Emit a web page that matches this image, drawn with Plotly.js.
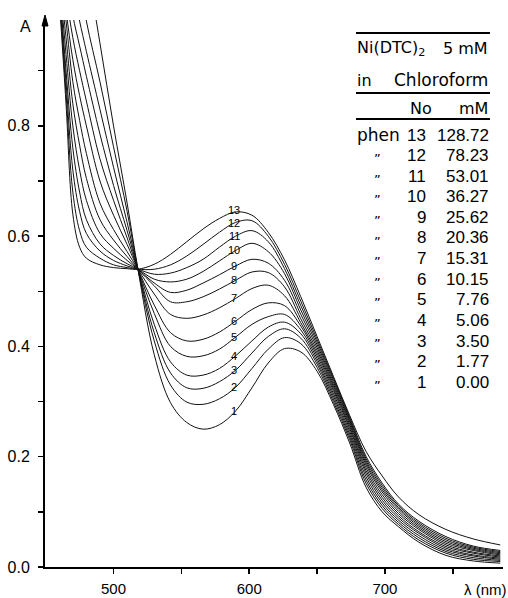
<!DOCTYPE html>
<html>
<head>
<meta charset="utf-8">
<script src="https://cdn.plot.ly/plotly-3.0.1.min.js"></script>
<style>html,body{margin:0;padding:0;background:#fff;}#chart{width:508px;height:598px;}</style>
</head>
<body>
<div id="chart"></div>
<script>
// wavelength grid (nm)
const WL = [460,465,470,475,480,490,500,510,518,530,542,554,566,578,590,602,614,626,638,650,662,674,686,698,710,725,745,765,785];

// absorbance per spectrum (1 = no phen ... 13 = highest phen)
const A1  = [1.40,1.33,1.26,1.18,1.10,0.95,0.80,0.66,0.54,0.385,0.298,0.262,0.250,0.258,0.283,0.325,0.370,0.396,0.390,0.355,0.295,0.225,0.145,0.100,0.073,0.045,0.021,0.011,0.007];
const A2  = [1.30,1.22,1.14,1.065,0.99,0.88,0.762,0.645,0.54,0.410,0.330,0.299,0.295,0.305,0.326,0.360,0.395,0.416,0.405,0.362,0.300,0.231,0.152,0.106,0.077,0.049,0.025,0.014,0.010];
const A3  = [1.22,1.13,1.05,0.99,0.935,0.83,0.725,0.625,0.54,0.425,0.352,0.325,0.324,0.336,0.357,0.388,0.418,0.432,0.415,0.368,0.305,0.236,0.158,0.111,0.081,0.053,0.028,0.017,0.012];
const A4  = [1.18,1.08,1.00,0.945,0.89,0.785,0.692,0.61,0.54,0.440,0.372,0.348,0.348,0.360,0.383,0.410,0.435,0.444,0.423,0.373,0.310,0.241,0.164,0.116,0.085,0.057,0.031,0.020,0.014];
const A5  = [1.15,1.04,0.96,0.90,0.845,0.74,0.665,0.597,0.54,0.460,0.400,0.382,0.383,0.395,0.417,0.440,0.454,0.458,0.430,0.378,0.315,0.246,0.170,0.121,0.089,0.061,0.034,0.022,0.016];
const A6  = [1.12,1.01,0.92,0.855,0.80,0.70,0.638,0.585,0.54,0.475,0.425,0.410,0.413,0.426,0.446,0.467,0.479,0.474,0.437,0.383,0.320,0.251,0.175,0.126,0.093,0.064,0.037,0.025,0.018];
const A7  = [1.10,0.99,0.88,0.81,0.75,0.66,0.612,0.572,0.54,0.495,0.458,0.451,0.457,0.470,0.487,0.505,0.511,0.492,0.443,0.388,0.324,0.255,0.180,0.131,0.097,0.068,0.040,0.027,0.020];
const A8  = [1.08,0.96,0.84,0.765,0.705,0.63,0.593,0.563,0.54,0.510,0.481,0.481,0.490,0.504,0.520,0.535,0.534,0.508,0.450,0.393,0.328,0.259,0.185,0.136,0.101,0.071,0.043,0.030,0.022];
const A9  = [1.07,0.93,0.80,0.72,0.665,0.605,0.578,0.556,0.54,0.515,0.498,0.502,0.515,0.530,0.546,0.558,0.551,0.520,0.458,0.398,0.332,0.263,0.189,0.140,0.105,0.074,0.046,0.032,0.024];
const A10 = [1.06,0.90,0.76,0.68,0.63,0.586,0.565,0.55,0.54,0.522,0.517,0.522,0.536,0.555,0.574,0.587,0.572,0.532,0.466,0.403,0.336,0.266,0.193,0.144,0.108,0.077,0.049,0.034,0.026];
const A11 = [1.05,0.88,0.72,0.645,0.605,0.573,0.556,0.546,0.54,0.531,0.533,0.543,0.558,0.580,0.600,0.610,0.590,0.541,0.474,0.408,0.340,0.269,0.197,0.148,0.111,0.080,0.052,0.036,0.028];
const A12 = [1.04,0.86,0.68,0.61,0.58,0.56,0.548,0.543,0.54,0.540,0.548,0.564,0.585,0.607,0.625,0.628,0.600,0.549,0.482,0.413,0.343,0.272,0.201,0.152,0.114,0.083,0.055,0.038,0.030];
const A13 = [1.03,0.84,0.64,0.58,0.56,0.548,0.543,0.541,0.54,0.549,0.567,0.590,0.613,0.632,0.644,0.638,0.607,0.557,0.490,0.418,0.346,0.275,0.210,0.165,0.127,0.095,0.068,0.051,0.040];

const CURVE_NO = [1,2,3,4,5,6,7,8,9,10,11,12,13];
const LABEL_WL = 590;

// table content
const DITTO = '\u201D';
const TBL_PREFIX = ['phen',DITTO,DITTO,DITTO,DITTO,DITTO,DITTO,DITTO,DITTO,DITTO,DITTO,DITTO,DITTO];
const TBL_NO     = ['13','12','11','10','9','8','7','6','5','4','3','2','1'];
const TBL_MM     = ['128.72','78.23','53.01','36.27','25.62','20.36','15.31','10.15','7.76','5.06','3.50','1.77','0.00'];

const XTICKS = [500,600,700];
const XTICK_TEXT = ['500','600','700'];
const YTICKS = [0,0.2,0.4,0.6,0.8];
const YTICK_TEXT = ['0.0','0.2','0.4','0.6','0.8'];

const SERIES = [A1,A2,A3,A4,A5,A6,A7,A8,A9,A10,A11,A12,A13];

// geometry helpers (pixel -> paper)
const L=45, R=503, T=20, B=567;
const px = x => (x-L)/(R-L);
const py = y => (B-y)/(B-T);

const FONT = 'Liberation Sans, Arial, sans-serif';
const TFONT = 'DejaVu Sans, sans-serif';
const traces = SERIES.map((s,i)=>({
  x: WL, y: s, type:'scatter', mode:'lines',
  line:{color:'#111', width:1, shape:'spline', smoothing:1},
  hoverinfo:'skip', name:String(CURVE_NO[i])
}));

const ann = [];
// curve numbers (small offsets keep the crowded top labels legible)
const li = WL.indexOf(LABEL_WL);
SERIES.forEach((s,i)=>{
  const n = CURVE_NO[i];
  ann.push({xref:'x', yref:'y', x:LABEL_WL-1, y:s[li], text:String(n),
    showarrow:false, xanchor:'center', yanchor:'middle',
    yshift: n===13 ? 2 : (n===12 ? -1 : 0),
    font:{family:FONT, size:11, color:'#000'}});
});
// axis labels
ann.push({xref:'paper', yref:'paper', x:px(25), y:py(26), text:'A', showarrow:false,
  xanchor:'center', yanchor:'middle', font:{family:FONT, size:16, color:'#000'}});
ann.push({xref:'paper', yref:'paper', x:px(485), y:py(589), text:'λ (nm)', showarrow:false,
  xanchor:'center', yanchor:'middle', font:{family:FONT, size:15, color:'#000'}});
// table header
const tf = {family:TFONT, size:16, color:'#000'};
const nf = {family:FONT, size:17, color:'#000'};
ann.push({xref:'paper', yref:'paper', x:px(355), y:py(49), text:'Ni(DTC)<sub>2</sub>', showarrow:false, xanchor:'left', yanchor:'middle', font:tf});
ann.push({xref:'paper', yref:'paper', x:px(490), y:py(49), text:'5 mM', showarrow:false, xanchor:'right', yanchor:'middle', font:tf});
ann.push({xref:'paper', yref:'paper', x:px(355), y:py(80), text:'in', showarrow:false, xanchor:'left', yanchor:'middle', font:tf});
ann.push({xref:'paper', yref:'paper', x:px(490), y:py(80), text:'Chloroform', showarrow:false, xanchor:'right', yanchor:'middle', font:{family:TFONT, size:17, color:'#000'}});
ann.push({xref:'paper', yref:'paper', x:px(421), y:py(108), text:'No', showarrow:false, xanchor:'center', yanchor:'middle', font:tf});
ann.push({xref:'paper', yref:'paper', x:px(490), y:py(108), text:'mM', showarrow:false, xanchor:'right', yanchor:'middle', font:tf});
TBL_NO.forEach((n,k)=>{
  const yy = 135 + k*20.6;
  const p = TBL_PREFIX[k];
  if (p==='phen') {
    ann.push({xref:'paper', yref:'paper', x:px(355), y:py(yy), text:p, showarrow:false, xanchor:'left', yanchor:'middle', font:{family:TFONT, size:17, color:'#000'}});
  } else {
    ann.push({xref:'paper', yref:'paper', x:px(377), y:py(yy+3), text:p, showarrow:false, xanchor:'center', yanchor:'middle', font:{family:TFONT, size:13, color:'#000'}});
  }
  ann.push({xref:'paper', yref:'paper', x:px(428), y:py(yy), text:n, showarrow:false, xanchor:'right', yanchor:'middle', font:nf});
  ann.push({xref:'paper', yref:'paper', x:px(491), y:py(yy), text:TBL_MM[k], showarrow:false, xanchor:'right', yanchor:'middle', font:nf});
});

const shapes = [];
[33,93,119].forEach(yy=>{
  shapes.push({type:'line', xref:'paper', yref:'paper', x0:px(356), x1:px(490), y0:py(yy), y1:py(yy), line:{color:'#000', width:2}});
});
// arrow head on y axis
shapes.push({type:'path', xref:'paper', yref:'paper',
  path:`M ${px(42)} ${py(26)} L ${px(45)} ${py(15)} L ${px(48)} ${py(26)} Z`,
  fillcolor:'#000', line:{color:'#000', width:1}});

const layout = {
  width:508, height:598,
  margin:{l:L, r:508-R, t:T, b:598-B, pad:0},
  paper_bgcolor:'#fff', plot_bgcolor:'#fff',
  showlegend:false,
  font:{family:FONT, color:'#000'},
  xaxis:{range:[449.5,787], tickmode:'array', tickvals:XTICKS, ticktext:XTICK_TEXT,
    ticks:'outside', ticklen:5, tickwidth:1.5, tickcolor:'#000',
    showline:true, linewidth:2, linecolor:'#000', showgrid:false, zeroline:false,
    tickfont:{family:FONT, size:15, color:'#000'}, ticklabelstandoff:2,
    minor:{tickmode:'array', tickvals:[550,650,750], ticks:'outside', ticklen:5, tickwidth:1.5, tickcolor:'#000', showgrid:false}},
  yaxis:{range:[0,0.992], tickmode:'array', tickvals:YTICKS, ticktext:YTICK_TEXT,
    ticks:'outside', ticklen:5, tickwidth:1.5, tickcolor:'#000',
    showline:true, linewidth:2, linecolor:'#000', showgrid:false, zeroline:false,
    tickfont:{family:FONT, size:16, color:'#000'}, ticklabelstandoff:5,
    minor:{tickmode:'array', tickvals:[0.1,0.3,0.5,0.7,0.9], ticks:'outside', ticklen:5, tickwidth:1.5, tickcolor:'#000', showgrid:false}},
  annotations:ann,
  shapes:shapes
};
Plotly.newPlot('chart', traces, layout, {staticPlot:true, displayModeBar:false});
</script>
</body>
</html>
